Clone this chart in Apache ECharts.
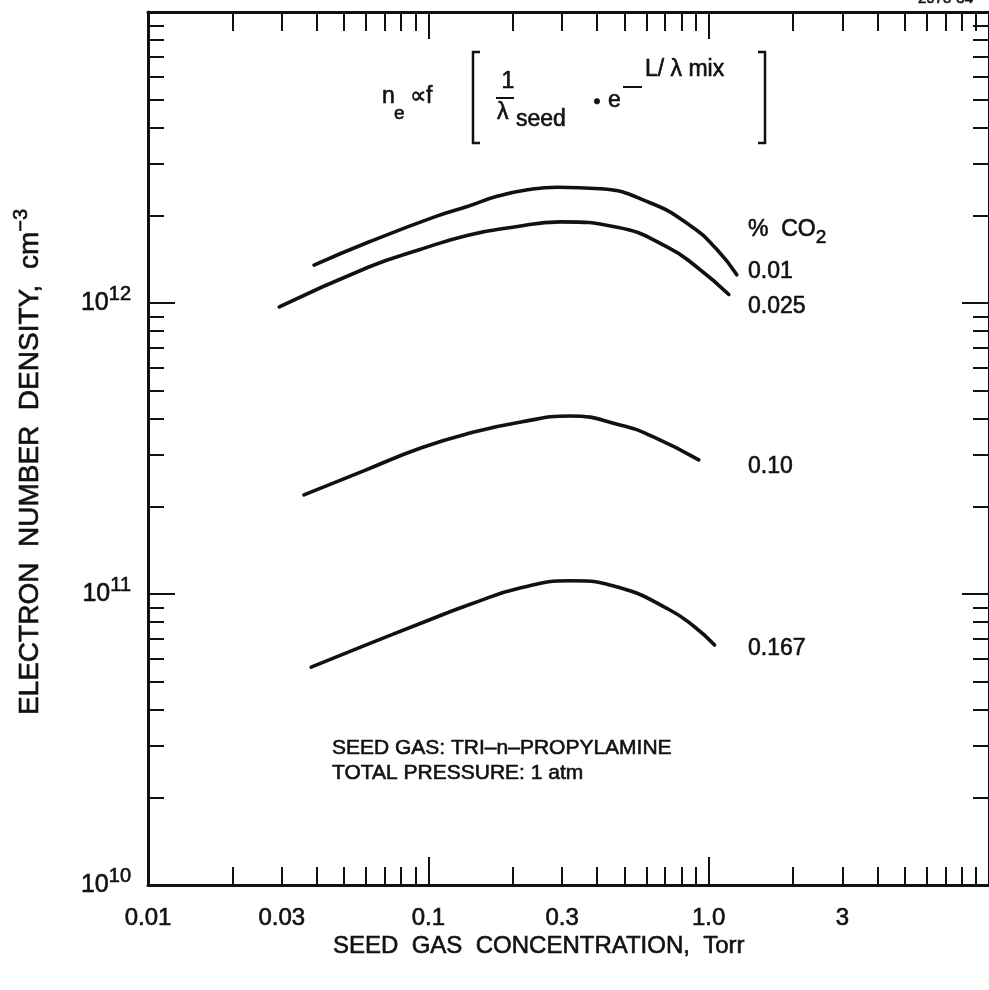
<!DOCTYPE html>
<html>
<head>
<meta charset="utf-8">
<script src="https://cdn.jsdelivr.net/npm/echarts@6/dist/echarts.min.js"></script>
<style>
  html, body { margin: 0; padding: 0; background: #fff; }
  #chart { width: 989px; height: 990px; }
</style>
</head>
<body>
<div id="chart"></div>
<script>
// Seed gas concentration (Torr) and electron number density (cm^-3) per CO2 fraction
const co2Percent = ['0.01', '0.025', '0.10', '0.167'];

const seed_001 = [0.0391, 0.0613, 0.1059, 0.1386, 0.177, 0.226, 0.289, 0.411, 0.618, 0.856, 1.068, 1.26];
const ne_001   = [1.35e12, 1.62e12, 1.98e12, 2.15e12, 2.33e12, 2.45e12, 2.50e12, 2.47e12, 2.21e12, 1.85e12, 1.53e12, 1.25e12];

const seed_0025 = [0.0294, 0.0613, 0.0922, 0.1386, 0.200, 0.296, 0.472, 0.710, 0.907, 1.18];
const ne_0025   = [9.69e11, 1.33e12, 1.52e12, 1.71e12, 1.82e12, 1.90e12, 1.82e12, 1.56e12, 1.33e12, 1.07e12];

const seed_010 = [0.0360, 0.0588, 0.0945, 0.142, 0.214, 0.321, 0.483, 0.638, 0.922];
const ne_010   = [2.19e11, 2.65e11, 3.18e11, 3.58e11, 3.90e11, 4.09e11, 3.81e11, 3.46e11, 2.89e11];

const seed_0167 = [0.0382, 0.0588, 0.0945, 0.142, 0.214, 0.321, 0.483, 0.727, 0.892, 1.05];
const ne_0167   = [5.61e10, 6.63e10, 7.95e10, 9.24e10, 1.05e11, 1.11e11, 1.05e11, 8.81e10, 7.70e10, 6.68e10];

// Axis ticks and labels
const xMajorTicks = [0.01, 0.1, 1, 10];
const xMinorTicks = [0.02,0.03,0.04,0.05,0.06,0.07,0.08,0.09, 0.2,0.3,0.4,0.5,0.6,0.7,0.8,0.9, 2,3,4,5,6,7,8,9];
const xTickLabels = [0.01, 0.03, 0.1, 0.3, 1, 3];
const xTickText = ['0.01', '0.03', '0.1', '0.3', '1.0', '3'];
const yMajorTicks = [1e10, 1e11, 1e12, 1e13];
const yMinorTicks = [2e10,3e10,4e10,5e10,6e10,7e10,8e10,9e10, 2e11,3e11,4e11,5e11,6e11,7e11,8e11,9e11, 2e12,3e12,4e12,5e12,6e12,7e12,8e12,9e12];
const yTickLabels = [1e10, 1e11, 1e12];

const FONT = '"Liberation Sans", Arial, sans-serif';
const INK = '#111';
const HEAVY = 0.6; // outline that gives the type its heavier drafting weight

function pairs(xs, ys) { return xs.map((x, i) => [x, ys[i]]); }

function xAxisDef(position, ticks, len, showLine, showLabel) {
  return {
    type: 'log', logBase: 10, min: 0.01, max: 10, position: position,
    axisLine: { show: showLine, lineStyle: { color: INK, width: 3 } },
    axisTick: { show: true, inside: true, length: len, customValues: ticks, lineStyle: { color: INK, width: 2 } },
    axisLabel: showLabel ? {
      customValues: xTickLabels, margin: 21, color: INK, fontFamily: FONT, fontSize: 24,
      textBorderColor: INK, textBorderWidth: HEAVY,
      formatter: function (v) {
        for (let i = 0; i < xTickLabels.length; i++) {
          if (Math.abs(Math.log10(v) - Math.log10(xTickLabels[i])) < 1e-6) return xTickText[i];
        }
        return '';
      }
    } : { show: false },
    splitLine: { show: false }, minorTick: { show: false }
  };
}

function yAxisDef(position, ticks, len, showLine, showLabel) {
  return {
    type: 'log', logBase: 10, min: 1e10, max: 1e13, position: position,
    axisLine: { show: showLine, lineStyle: { color: INK, width: 3 } },
    axisTick: { show: true, inside: true, length: len, customValues: ticks, lineStyle: { color: INK, width: 2 } },
    axisLabel: showLabel ? {
      customValues: yTickLabels, margin: 17, color: INK, fontFamily: FONT,
      formatter: function (v) {
        const e = Math.round(Math.log10(v));
        return '{b|10}{s|' + e + '}';
      },
      rich: {
        b: { fontSize: 25, lineHeight: 38, verticalAlign: 'middle', fontFamily: FONT, color: INK,
             textBorderColor: INK, textBorderWidth: HEAVY },
        s: { fontSize: 20, verticalAlign: 'top', fontFamily: FONT, color: INK,
             textBorderColor: INK, textBorderWidth: HEAVY }
      }
    } : { show: false },
    splitLine: { show: false }, minorTick: { show: false }
  };
}

const lineStyle = { color: INK, width: 3.6, cap: 'round', join: 'round' };
function curve(name, xs, ys) {
  return {
    name: name, type: 'line', xAxisIndex: 0, yAxisIndex: 0,
    data: pairs(xs, ys), smooth: 0.5, symbol: 'none',
    lineStyle: lineStyle, emphasis: { disabled: true }, silent: true
  };
}

function txt(x, y, text, size, style) {
  return {
    type: 'text', x: x, y: y, silent: true,
    style: Object.assign({ text: text, fill: INK, stroke: INK, lineWidth: HEAVY,
      fontFamily: FONT, fontSize: size, textAlign: 'left', textVerticalAlign: 'middle' }, style || {})
  };
}

const chart = echarts.init(document.getElementById('chart'), null, { renderer: 'canvas' });

chart.setOption({
  backgroundColor: '#fff',
  animation: false,
  grid: { left: 148, top: 12, width: 846, height: 873, containLabel: false },
  xAxis: [
    xAxisDef('bottom', xMajorTicks, 28, true, true),
    xAxisDef('bottom', xMinorTicks, 18, false, false),
    xAxisDef('top', xMajorTicks, 27, true, false),
    xAxisDef('top', xMinorTicks, 19, false, false)
  ],
  yAxis: [
    yAxisDef('left', yMajorTicks, 27, true, true),
    yAxisDef('left', yMinorTicks, 16, false, false),
    yAxisDef('right', yMajorTicks, 27, true, false),
    yAxisDef('right', yMinorTicks, 16, false, false)
  ],
  series: [
    curve(co2Percent[0], seed_001, ne_001),
    curve(co2Percent[1], seed_0025, ne_0025),
    curve(co2Percent[2], seed_010, ne_010),
    curve(co2Percent[3], seed_0167, ne_0167)
  ],
  graphic: [
    // axis titles
    txt(333, 946, 'SEED  GAS  CONCENTRATION,  Torr', 24),
    {
      type: 'text', x: 30, y: 462, rotation: Math.PI / 2, silent: true,
      style: {
        text: '{t|ELECTRON  NUMBER  DENSITY,  cm}{s|−3}',
        textAlign: 'center', textVerticalAlign: 'middle', fill: INK,
        rich: {
          t: { fontSize: 28, lineHeight: 38, verticalAlign: 'middle', fontFamily: FONT, fill: INK, stroke: INK, lineWidth: HEAVY },
          s: { fontSize: 20, verticalAlign: 'top', fontFamily: FONT, fill: INK, stroke: INK, lineWidth: HEAVY }
        }
      }
    },
    // drawing number, top-right corner
    txt(918, 6, '2075-34', 15, { textVerticalAlign: 'bottom' }),
    // formula n_e ∝ f[ 1/λseed · e^(−L/λ mix) ]
    txt(382, 97, 'n', 23),
    txt(394, 114, 'e', 19),
    txt(410, 97, '∝f', 23),
    txt(508, 82, '1', 23, { textAlign: 'center' }),
    { type: 'line', silent: true, shape: { x1: 496, y1: 98, x2: 514, y2: 98 }, style: { stroke: INK, lineWidth: 2 } },
    txt(497, 113, 'λ', 23),
    txt(516, 120, 'seed', 23),
    txt(597, 102, '•', 20, { textAlign: 'center' }),
    txt(608, 101, 'e', 23),
    { type: 'line', silent: true, shape: { x1: 623, y1: 87, x2: 642, y2: 87 }, style: { stroke: INK, lineWidth: 2 } },
    txt(645, 70, 'L/ λ mix', 23),
    { type: 'polyline', silent: true, shape: { points: [[480, 52], [473, 52], [473, 143], [480, 143]] }, style: { stroke: INK, lineWidth: 2.5, fill: null } },
    { type: 'polyline', silent: true, shape: { points: [[758, 52], [765, 52], [765, 143], [758, 143]] }, style: { stroke: INK, lineWidth: 2.5, fill: null } },
    // curve labels
    {
      type: 'text', x: 748, y: 230, silent: true,
      style: {
        text: '{t|%  CO}{s|2}', textAlign: 'left', textVerticalAlign: 'middle', fill: INK,
        rich: {
          t: { fontSize: 23, lineHeight: 34, verticalAlign: 'middle', fontFamily: FONT, fill: INK, stroke: INK, lineWidth: HEAVY },
          s: { fontSize: 19, verticalAlign: 'bottom', fontFamily: FONT, fill: INK, stroke: INK, lineWidth: HEAVY }
        }
      }
    },
    txt(748, 272, co2Percent[0], 23),
    txt(748, 307, co2Percent[1], 23),
    txt(748, 467, co2Percent[2], 23),
    txt(748, 649, co2Percent[3], 23),
    // seed gas notes
    txt(332, 748, 'SEED GAS: TRI–n–PROPYLAMINE', 21),
    txt(332, 773, 'TOTAL PRESSURE: 1 atm', 21)
  ]
});
</script>
</body>
</html>
